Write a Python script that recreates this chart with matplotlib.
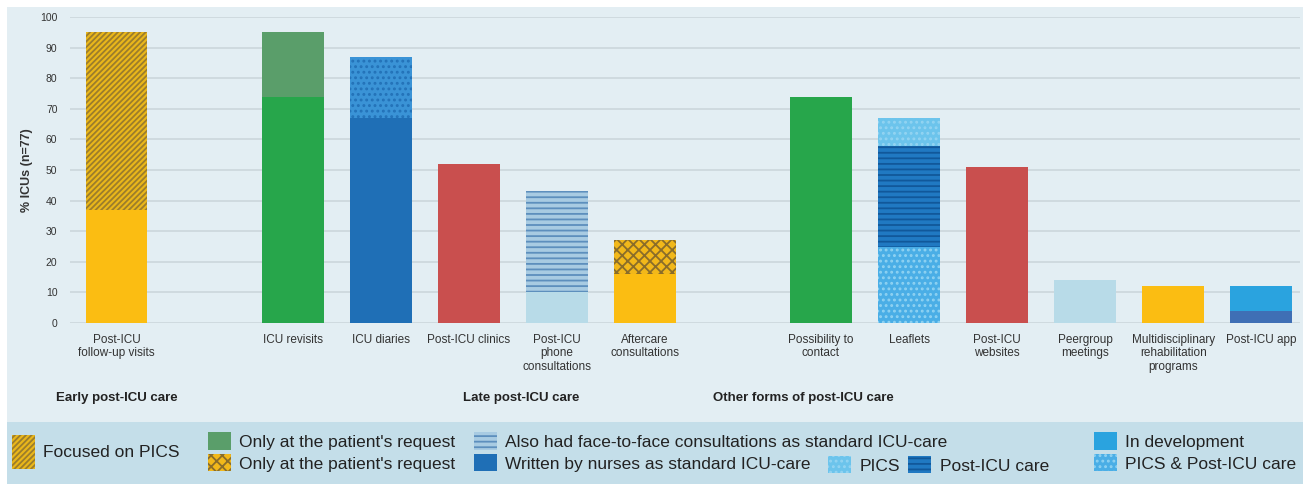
import numpy as np
import matplotlib.pyplot as plt
from matplotlib.patches import Rectangle, Patch

plt.rcParams['font.family'] = ['Liberation Sans', 'DejaVu Sans']
plt.rcParams['hatch.linewidth'] = 1.3

# data
categories = ["Post-ICU\nfollow-up visits", "ICU revisits", "ICU diaries", "Post-ICU clinics",
              "Post-ICU\nphone\nconsultations", "Aftercare\nconsultations",
              "Possibility to\ncontact", "Leaflets", "Post-ICU\nwebsites", "Peergroup\nmeetings",
              "Multidisciplinary\nrehabilitation\nprograms", "Post-ICU app"]
group_sizes = [1, 5, 6]
group_names = ["Early post-ICU care", "Late post-ICU care", "Other forms of post-ICU care"]

seg1 = [37, 74, 67, 52, 10, 16, 74, 25, 51, 14, 12, 4]
seg2 = [58, 21, 20, 0, 33, 11, 0, 33, 0, 0, 0, 8]
seg3 = [0, 0, 0, 0, 0, 0, 0, 9, 0, 0, 0, 0]

style1 = ["yellow", "green", "nurses", "red", "lightblue", "yellow", "green", "both", "red",
          "lightblue", "yellow", "appdark"]
style2 = ["pics_focus", "request_green", "diary_top", None, "face2face", "request_check", None,
          "postcare", None, None, None, "indev"]
style3 = [None] * 7 + ["pics"] + [None] * 4

# face, hatch, hatch colour
styles = {
    "yellow": ("#fbbd12", None, "#fbbd12"),
    "green": ("#27a64b", None, "#27a64b"),
    "nurses": ("#1f6fb6", None, "#1f6fb6"),
    "red": ("#c94f4e", None, "#c94f4e"),
    "lightblue": ("#b8dbe8", None, "#b8dbe8"),
    "appdark": ("#3f6fb5", None, "#3f6fb5"),
    "pics_focus": ("#eab71a", "//////", "#9c7d2c"),
    "request_green": ("#5a9e6a", None, "#5a9e6a"),
    "diary_top": ("#3a93d6", "...", "#2372b8"),
    "face2face": ("#a8cbe2", "---", "#5d8fbd"),
    "request_check": ("#f2b81a", "xxx", "#8a6d2a"),
    "postcare": ("#2079c2", "---", "#11589a"),
    "indev": ("#2aa3df", None, "#2aa3df"),
    "both": ("#4aaee6", "...", "#8fd2f2"),
    "pics": ("#6cc4ec", "...", "#93d4f2"),
}

xpos = []
s = 0
for g in group_sizes:
    xpos += list(range(s, s + g))
    s += g + 1
xpos = np.array(xpos)

fig = plt.figure(figsize=(13.1, 4.84), dpi=100)
fig.patch.set_facecolor("white")
fig.patches.append(Rectangle((0.005, 0.128), 0.99, 0.858, transform=fig.transFigure,
                             facecolor="#e3eef3", edgecolor="none", zorder=-10))
fig.patches.append(Rectangle((0.005, 0.0), 0.99, 0.128, transform=fig.transFigure,
                             facecolor="#c4dee9", edgecolor="none", zorder=-10))

ax = fig.add_axes([0.0534, 0.3326, 0.9389, 0.6323])
ax.patch.set_alpha(0)

bottom = np.zeros(len(categories))
for seg, sty in [(seg1, style1), (seg2, style2), (seg3, style3)]:
    for i in range(len(categories)):
        if seg[i] == 0 or sty[i] is None:
            continue
        face, hatch, hc = styles[sty[i]]
        ax.bar(xpos[i], seg[i], 0.7, bottom=bottom[i], color=face, hatch=hatch,
               edgecolor=hc, linewidth=0, zorder=3)
    bottom += np.array(seg)

ax.set_ylim(0, 100)
ax.set_xlim(-0.53, 13.44)
ax.set_yticks(np.arange(0, 101, 10))
ax.set_xticks(xpos)
ax.set_xticklabels(categories, fontsize=8.5, color="#333333", linespacing=1.15)
ax.tick_params(axis="x", length=0, pad=8)
ax.tick_params(axis="y", length=0, pad=9, labelsize=7.5, labelcolor="#333333")
ax.grid(axis="y", color="#cbd6dc", linewidth=1.2, zorder=0)
for sp in ax.spines.values():
    sp.set_visible(False)
ax.set_ylabel("% ICUs (n=77)", fontsize=9, fontweight="bold", color="#333333", labelpad=5)

tr = ax.get_xaxis_transform()
for name, gx in zip(group_names, [0, 4.6, 7.8]):
    ax.text(gx, -0.245, name, transform=tr, ha="center", va="center",
            fontsize=9.5, fontweight="bold", color="#222222")

def h(key):
    face, hatch, hc = styles[key]
    return Patch(facecolor=face, hatch=hatch, edgecolor=hc, linewidth=0)

common = dict(frameon=False, fontsize=12.5, borderpad=0, borderaxespad=0,
              handlelength=1.3, handletextpad=0.5, labelcolor="#222222", loc="center left")
yc = 1 - 452 / 484
fig.legend([h("pics_focus")], ["Focused on PICS"], bbox_to_anchor=(12 / 1310, yc),
           handleheight=2.7, **common)
fig.legend([h("request_green"), h("request_check")],
           ["Only at the patient's request", "Only at the patient's request"],
           bbox_to_anchor=(208 / 1310, yc), handleheight=1.15, labelspacing=0.25, **common)
fig.legend([h("face2face"), h("nurses")],
           ["Also had face-to-face consultations as standard ICU-care",
            "Written by nurses as standard ICU-care"],
           bbox_to_anchor=(474 / 1310, yc), handleheight=1.15, labelspacing=0.25, **common)
fig.legend([h("pics"), h("postcare")], ["PICS", "Post-ICU care"], ncol=2,
           bbox_to_anchor=(828 / 1310, 1 - 465 / 484), handleheight=1.15,
           columnspacing=0.5, **common)
fig.legend([h("indev"), h("both")], ["In development", "PICS & Post-ICU care"],
           bbox_to_anchor=(1094 / 1310, yc), handleheight=1.15, labelspacing=0.25, **common)

plt.savefig("out.png", dpi=100)
